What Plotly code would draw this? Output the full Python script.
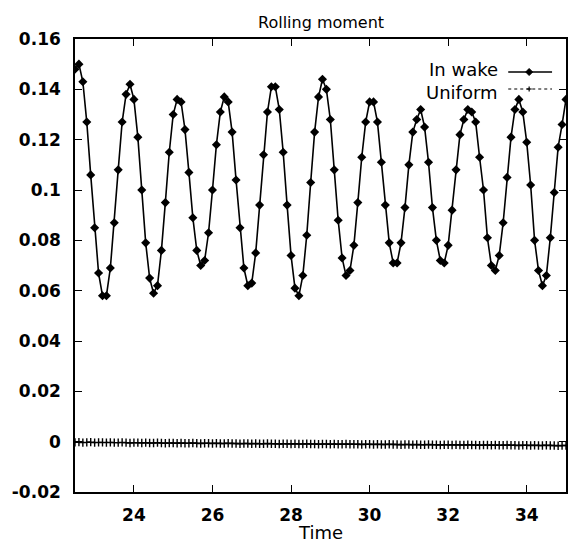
import numpy as np
import plotly.graph_objects as go

# ---- data ----
t_start = 22.5
t_step = 0.1
in_wake = [
    0.148, 0.150, 0.143, 0.127, 0.106, 0.085, 0.067, 0.058, 0.058, 0.069,
    0.087, 0.108, 0.127, 0.138, 0.142, 0.136, 0.121, 0.100, 0.079, 0.065,
    0.059, 0.062, 0.076, 0.095, 0.115, 0.130, 0.136, 0.135, 0.124, 0.107,
    0.089, 0.076, 0.070, 0.072, 0.083, 0.100, 0.118, 0.131, 0.137, 0.135,
    0.123, 0.104, 0.085, 0.069, 0.062, 0.063, 0.075, 0.094, 0.114, 0.131,
    0.141, 0.141, 0.132, 0.115, 0.094, 0.074, 0.061, 0.058, 0.066, 0.082,
    0.103, 0.123, 0.137, 0.144, 0.140, 0.128, 0.108, 0.088, 0.073, 0.066,
    0.068, 0.078, 0.095, 0.113, 0.127, 0.135, 0.135, 0.127, 0.111, 0.094,
    0.079, 0.071, 0.071, 0.079, 0.093, 0.110, 0.123, 0.128, 0.132, 0.125,
    0.111, 0.093, 0.080, 0.072, 0.071, 0.078, 0.092, 0.108, 0.122, 0.128,
    0.132, 0.131, 0.127, 0.113, 0.100, 0.081, 0.070, 0.068, 0.074, 0.087,
    0.105, 0.121, 0.132, 0.136, 0.131, 0.119, 0.102, 0.080, 0.068, 0.062,
    0.066, 0.081, 0.099, 0.117, 0.126, 0.136,
]
uniform = [
    -0.0003, -0.0002, -0.0004, -0.0003, -0.0002, -0.0004, -0.0003, -0.0003, -0.0004, -0.0003,
    -0.0004, -0.0004, -0.0003, -0.0004, -0.0005, -0.0004, -0.0004, -0.0005, -0.0004, -0.0005,
    -0.0005, -0.0004, -0.0005, -0.0006, -0.0005, -0.0005, -0.0006, -0.0005, -0.0006, -0.0006,
    -0.0005, -0.0006, -0.0007, -0.0006, -0.0006, -0.0007, -0.0006, -0.0007, -0.0007, -0.0006,
    -0.0007, -0.0007, -0.0008, -0.0007, -0.0007, -0.0008, -0.0007, -0.0008, -0.0008, -0.0007,
    -0.0008, -0.0008, -0.0009, -0.0008, -0.0008, -0.0009, -0.0008, -0.0009, -0.0009, -0.0008,
    -0.0009, -0.0009, -0.0010, -0.0009, -0.0009, -0.0010, -0.0009, -0.0010, -0.0010, -0.0009,
    -0.0010, -0.0010, -0.0010, -0.0011, -0.0010, -0.0010, -0.0011, -0.0010, -0.0011, -0.0011,
    -0.0010, -0.0011, -0.0011, -0.0012, -0.0011, -0.0011, -0.0012, -0.0011, -0.0012, -0.0012,
    -0.0011, -0.0012, -0.0012, -0.0013, -0.0012, -0.0012, -0.0013, -0.0012, -0.0013, -0.0013,
    -0.0012, -0.0013, -0.0013, -0.0014, -0.0013, -0.0013, -0.0014, -0.0013, -0.0014, -0.0014,
    -0.0013, -0.0014, -0.0014, -0.0015, -0.0014, -0.0014, -0.0015, -0.0014, -0.0015, -0.0015,
    -0.0014, -0.0015, -0.0015, -0.0016, -0.0015, -0.0015,
]
time = [round(t_start + t_step * k, 2) for k in range(len(in_wake))]

x_ticks = [24, 26, 28, 30, 32, 34]
y_ticks = [-0.02, 0, 0.02, 0.04, 0.06, 0.08, 0.1, 0.12, 0.14, 0.16]
y_tick_text = ["-0.02", "0", "0.02", "0.04", "0.06", "0.08", "0.1", "0.12", "0.14", "0.16"]
series_names = ["In wake", "Uniform"]

FONT = "DejaVu Sans"
TICKFONT = dict(family=FONT, size=17, color="black", weight="bold")

fig = go.Figure()
fig.add_trace(go.Scatter(
    x=time, y=uniform, name=series_names[1], mode="lines+markers",
    line=dict(color="black", width=1.2, dash="dot"),
    marker=dict(symbol="cross-thin", size=6, line=dict(color="black", width=1.4)),
    showlegend=False,
))
fig.add_trace(go.Scatter(
    x=time, y=in_wake, name=series_names[0], mode="lines+markers",
    line=dict(color="black", width=1.6),
    marker=dict(symbol="diamond", size=7, color="black"),
    showlegend=False,
))

W, H = 577, 548
L, R, T, B = 75, 9, 39, 56
pw, ph = W - L - R, H - T - B

def px(xp):
    return (xp - L) / pw

def py(yp):
    return (H - B - yp) / ph

# custom gnuplot-style legend (text right, sample on the right)
shapes = []
annotations = []
rows = [(series_names[0], 72, "solid", "bottom"), (series_names[1], 89, "dot", "top")]
split = 80.5
for name, ypix, dash, anchor in rows:
    annotations.append(dict(
        x=px(501), y=py(split), xref="paper", yref="paper", text=name,
        xanchor="right", yanchor=anchor, showarrow=False,
        font=dict(family=FONT, size=18, color="black"), borderpad=0,
    ))
    shapes.append(dict(
        type="line", xref="paper", yref="paper",
        x0=px(510), x1=px(554), y0=py(ypix), y1=py(ypix),
        line=dict(color="black", width=1.6 if dash == "solid" else 1.1, dash=dash),
    ))
cx, cy = 531, 72
d = 3.5
shapes.append(dict(
    type="path", xref="paper", yref="paper",
    path=f"M {px(cx-d)},{py(cy)} L {px(cx)},{py(cy-d)} L {px(cx+d)},{py(cy)} L {px(cx)},{py(cy+d)} Z",
    fillcolor="black", line=dict(color="black", width=1),
))
cy2 = 89
shapes.append(dict(type="line", xref="paper", yref="paper",
                   x0=px(cx), x1=px(cx), y0=py(cy2 - 2.5), y1=py(cy2 + 2.5),
                   line=dict(color="black", width=1.2)))
shapes.append(dict(type="line", xref="paper", yref="paper",
                   x0=px(cx - 2.5), x1=px(cx + 2.5), y0=py(cy2), y1=py(cy2),
                   line=dict(color="black", width=1.2)))

annotations.append(dict(
    x=px(321), y=py(532), xref="paper", yref="paper", text="Time",
    xanchor="center", yanchor="middle", showarrow=False,
    font=dict(family=FONT, size=18, color="black"),
))
annotations.append(dict(
    x=px(322), y=py(22), xref="paper", yref="paper", text="Rolling moment",
    xanchor="center", yanchor="middle", showarrow=False,
    font=dict(family=FONT, size=16, color="black"),
))

fig.update_layout(
    width=W, height=H,
    margin=dict(l=L, r=R, t=T, b=B),
    paper_bgcolor="white", plot_bgcolor="white",
    font=dict(family=FONT, size=17, color="black"),
    shapes=shapes, annotations=annotations,
)
fig.update_xaxes(
    range=[22.5, 35], tickvals=x_ticks, ticks="inside", ticklen=7, tickwidth=1.3,
    tickcolor="black", showline=True, linecolor="black", linewidth=1.6, mirror="ticks",
    showgrid=False, zeroline=False, tickfont=TICKFONT, ticklabelstandoff=7,
)
fig.update_yaxes(
    range=[-0.02, 0.16], tickvals=y_ticks, ticktext=y_tick_text, ticks="inside", ticklen=7,
    tickwidth=1.3, tickcolor="black", showline=True, linecolor="black", linewidth=1.6,
    mirror="ticks", showgrid=False, zeroline=False, tickfont=TICKFONT, ticklabelstandoff=9,
)

fig.write_html(
    "out.html",
    config={"displayModeBar": False},
    post_script="document.body.style.margin='0';document.body.style.overflow='hidden';",
)
